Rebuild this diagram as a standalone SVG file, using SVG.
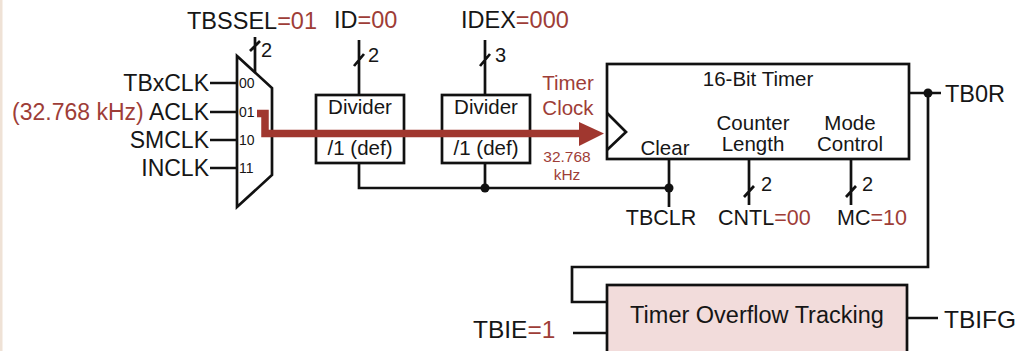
<svg xmlns="http://www.w3.org/2000/svg" width="1025" height="351" viewBox="0 0 1025 351">
<style>
text{font-family:"Liberation Sans",Arial,sans-serif;fill:#161616}
.r{fill:#9e3d37}
.w{fill:none;stroke:#111;stroke-width:2.7}
.box{fill:none;stroke:#111;stroke-width:2.7}
.L{font-size:23px}
.T{font-size:23.5px}
.B{font-size:20.5px}
.S{font-size:14px}
.N{font-size:20px}
.M{font-size:21.5px}
.dot{fill:#111}
</style>
<rect width="1025" height="351" fill="#fff"/>
<rect x="0" y="0" width="2.5" height="351" fill="#efe2d6"/>

<g id="mux">
  <polygon points="237,56 272,88 272,175 237,207" class="box"/>
  <text class="S" x="239" y="88">00</text>
  <text class="S" x="239" y="117">01</text>
  <text class="S" x="239" y="145">10</text>
  <text class="S" x="239" y="173">11</text>
  <text class="N" x="261" y="57">2</text>
</g>

<g id="inputs">
  <text class="L" x="209" y="91" text-anchor="end">TBxCLK</text>
  <text class="L" x="209" y="120" text-anchor="end"><tspan class="r">(32.768 kHz)</tspan> ACLK</text>
  <text class="L" x="209" y="148" text-anchor="end">SMCLK</text>
  <text class="L" x="209" y="176" text-anchor="end">INCLK</text>
</g>

<g id="top-labels">
  <text class="T" x="187" y="29">TBSSEL<tspan class="r">=01</tspan></text>
  <text class="T" x="334" y="28">ID<tspan class="r">=00</tspan></text>
  <text class="T" x="461" y="28">IDEX<tspan class="r">=000</tspan></text>
</g>

<g id="divider1">
  <rect class="box" x="316" y="95" width="88" height="68"/>
  <text class="B" x="360" y="114" text-anchor="middle">Divider</text>
  <text class="B" x="360" y="155" text-anchor="middle">/1 (def)</text>
  <text class="N" x="368" y="62">2</text>
</g>

<g id="divider2">
  <rect class="box" x="442" y="95" width="88" height="68"/>
  <text class="B" x="486" y="114" text-anchor="middle">Divider</text>
  <text class="B" x="486" y="155" text-anchor="middle">/1 (def)</text>
  <text class="N" x="495" y="62">3</text>
</g>

<g id="timer-clock">
  <text class="B r" x="568" y="90" text-anchor="middle">Timer</text>
  <text class="B r" x="568" y="115" text-anchor="middle">Clock</text>
  <text class="r" x="567" y="162" text-anchor="middle" font-size="15.5">32.768</text>
  <text class="r" x="567" y="180" text-anchor="middle" font-size="15.5">kHz</text>
</g>

<g id="timer16">
  <rect class="box" x="607" y="64" width="302" height="95"/>
  <polyline class="w" points="607,113 626,132 607,150"/>
  <text class="B" x="758" y="86" text-anchor="middle">16-Bit Timer</text>
  <text class="B" x="665" y="155" text-anchor="middle">Clear</text>
  <text class="B" x="753" y="130" text-anchor="middle">Counter</text>
  <text class="B" x="753" y="151" text-anchor="middle">Length</text>
  <text class="B" x="850" y="130" text-anchor="middle">Mode</text>
  <text class="B" x="850" y="151" text-anchor="middle">Control</text>
</g>

<g id="timer-signals">
  <text class="M" x="661" y="225" text-anchor="middle">TBCLR</text>
  <text class="M" x="718" y="225">CNTL<tspan class="r">=00</tspan></text>
  <text class="M" x="837" y="225">MC<tspan class="r">=10</tspan></text>
  <text class="N" x="761" y="191">2</text>
  <text class="N" x="862" y="191">2</text>
  <text class="T" x="945" y="102">TB0R</text>
</g>

<g id="overflow">
  <rect x="607" y="285" width="300" height="80" fill="#f2dcdb" stroke="#111" stroke-width="2.7"/>
  <text class="T" x="757" y="323" text-anchor="middle">Timer Overflow Tracking</text>
  <text x="473" y="338" font-size="24.5">TBIE<tspan class="r">=1</tspan></text>
  <text x="944" y="328" font-size="24.5">TBIFG</text>
</g>

<g id="connectors">
  <path class="w" d="M210 83H237M210 112H237M210 140H237M210 168H237"/>
  <path class="w" d="M255 37V72M250 51L260 41"/>
  <path class="w" d="M359 40V95M354 66L364 54M485 40V95M480 66L490 54"/>
  <path class="w" d="M359 163V188H669M485 163V188M669 159V207"/>
  <circle class="dot" cx="485" cy="188" r="4.5"/>
  <circle class="dot" cx="669" cy="188" r="4.5"/>
  <path class="w" d="M749 159V205M744 197L754 186M851 159V205M846 197L856 186"/>
  <path class="w" d="M909 93H941M928 93V267H572V302H607"/>
  <circle class="dot" cx="928" cy="93" r="4.5"/>
  <path class="w" d="M573 333H607M907 318H938"/>
  <polyline points="257,113.5 265,113.5 265,133.5 582,133.5" fill="none" stroke="#a0372f" stroke-width="7.5" stroke-linejoin="miter"/>
  <polygon points="579,122 604,133.5 579,146" fill="#a0372f"/>
</g>
</svg>
